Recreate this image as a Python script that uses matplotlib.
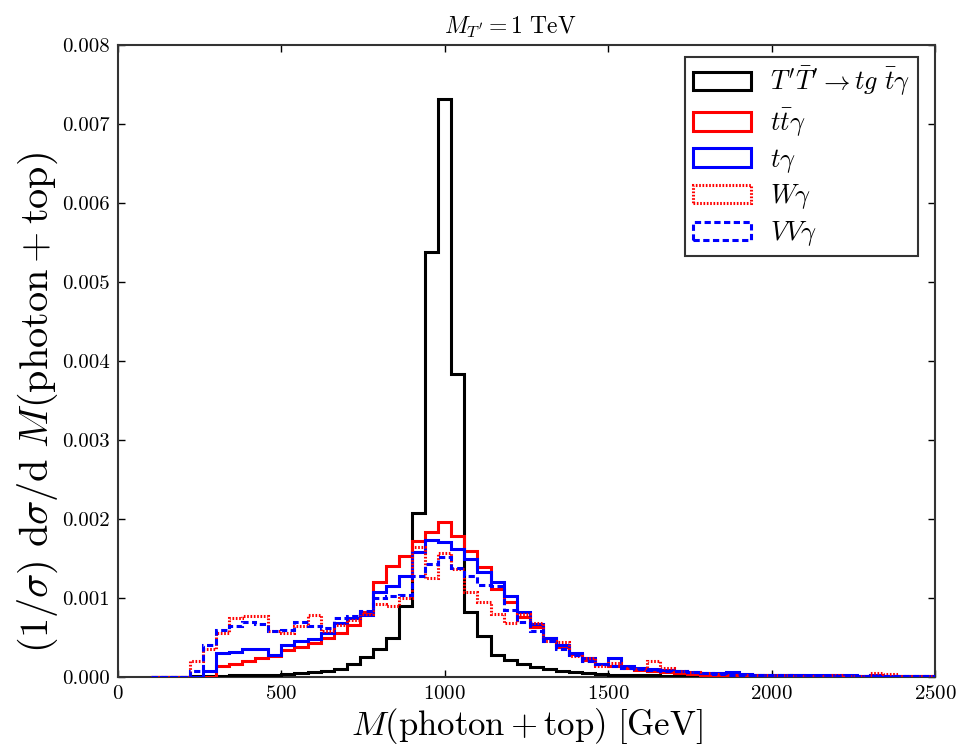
import numpy as np
import matplotlib
matplotlib.use('Agg')
import matplotlib.pyplot as plt
from matplotlib.ticker import FormatStrFormatter

plt.rcParams['mathtext.fontset'] = 'cm'
plt.rcParams['font.family'] = 'serif'
plt.rcParams['font.serif'] = ['cmr10']
plt.rcParams['axes.formatter.use_mathtext'] = True
plt.rcParams['lines.scale_dashes'] = False

# 60 bins of 40 GeV from 100 to 2500
edges = np.arange(100, 2501, 40)

tprime = [0, 0, 0, 0.00001, 0.00001,
          0.00001, 0.00002, 0.00002, 0.00003, 0.00003,
          0.00004, 0.00005, 0.00006, 0.00007, 0.0001,
          0.00016, 0.00025, 0.00035, 0.0005, 0.0009,
          0.00208, 0.00538, 0.00732, 0.00384, 0.00082,
          0.00052, 0.00028, 0.00021, 0.00017, 0.00013,
          0.0001, 0.00008, 0.00006, 0.00005, 0.00004,
          0.00003, 0.00002, 0.00002, 0.00002, 0.00001,
          0.00001, 0.00001, 0.00001, 0.00001, 0.00001,
          0, 0, 0, 0, 0,
          0, 0, 0, 0, 0,
          0, 0, 0, 0, 0]

ttgamma = [0, 0, 0, 0, 0,
           0.00014, 0.00016, 0.0002, 0.00024, 0.00027,
           0.00034, 0.00038, 0.00043, 0.0005, 0.00056,
           0.00066, 0.00082, 0.0012, 0.0014, 0.00153,
           0.00172, 0.00184, 0.00196, 0.00178, 0.0016,
           0.00139, 0.00111, 0.00095, 0.00076, 0.00063,
           0.0005, 0.00038, 0.00029, 0.00022, 0.00017,
           0.00014, 0.00011, 0.00009, 0.00007, 0.00006,
           0.00005, 0.00004, 0.00003, 0.00003, 0.00002,
           0.00002, 0.00002, 0.00001, 0.00001, 0.00002,
           0.00001, 0.00001, 0.00001, 0.00001, 0.00001,
           0.00001, 0.00001, 0.00001, 0.00001, 0.00001]

tgamma = [0, 0, 0, 0, 0.00008,
          0.0003, 0.00032, 0.00035, 0.00036, 0.00028,
          0.0004, 0.00045, 0.00048, 0.00056, 0.00068,
          0.00075, 0.00078, 0.00108, 0.00115, 0.00128,
          0.00158, 0.00173, 0.00171, 0.00162, 0.00149,
          0.00133, 0.0012, 0.00103, 0.00082, 0.00067,
          0.0005, 0.0004, 0.00031, 0.00024, 0.00017,
          0.00024, 0.00014, 0.00012, 0.0001, 0.00009,
          0.00008, 0.00006, 0.00005, 0.00005, 0.00006,
          0.00004, 0.00003, 0.00003, 0.00002, 0.00002,
          0.00002, 0.00002, 0.00002, 0.00002, 0.00001,
          0.00002, 0.00001, 0.00001, 0.00001, 0.00001]

wgamma = [0, 0, 0, 0.0002, 0.00035,
          0.00056, 0.00075, 0.00077, 0.00077, 0.00058,
          0.00056, 0.00065, 0.00079, 0.00058, 0.00066,
          0.00072, 0.0008, 0.00092, 0.0009, 0.001,
          0.00165, 0.00126, 0.00157, 0.00137, 0.00108,
          0.00095, 0.0008, 0.00069, 0.0008, 0.00069,
          0.00045, 0.00044, 0.00026, 0.00024, 0.00014,
          0.00018, 0.00012, 0.0001, 0.0002, 0.00012,
          0.00008, 0.00006, 0.00005, 0.00004, 0.00003,
          0.00003, 0.00002, 0.00002, 0.00002, 0.00001,
          0.00001, 0.00001, 0.00002, 0.00001, 0.00001,
          0.00005, 0.00004, 0.00001, 0.00001, 0.00001]

vvgamma = [0, 0, 0, 0.00008, 0.0004,
           0.0006, 0.00065, 0.0007, 0.00067, 0.00058,
           0.0006, 0.0007, 0.00065, 0.00062, 0.00075,
           0.00077, 0.00083, 0.001, 0.00102, 0.00104,
           0.00128, 0.00143, 0.00152, 0.00138, 0.00128,
           0.00117, 0.00115, 0.00085, 0.0007, 0.00058,
           0.00045, 0.00036, 0.00028, 0.0002, 0.00016,
           0.00014, 0.00012, 0.0001, 0.00009, 0.00008,
           0.00007, 0.00006, 0.00005, 0.00004, 0.00003,
           0.00003, 0.00002, 0.00002, 0.00002, 0.00001,
           0.00001, 0.00001, 0.00001, 0.00001, 0.00001,
           0.00001, 0.00001, 0.00001, 0.00001, 0.00001]

labels = [r'$T^{\prime}\bar{T}^{\prime} \rightarrow tg\ \bar{t}\gamma$',
          r'$t\bar{t}\gamma$', r'$t\gamma$', r'$W\gamma$', r'$VV\gamma$']

fig = plt.figure(figsize=(9.59, 7.52), dpi=100)
ax = fig.add_axes([0.123, 0.0997, 0.852, 0.840])

centers = edges[:-1] + 20
series = [(tprime, 'black', '-'), (ttgamma, 'red', '-'), (tgamma, 'blue', '-'),
          (wgamma, 'red', (0, (1.2, 1.2))), (vvgamma, 'blue', (0, (4.5, 2.5)))]
for (vals, col, ls), lab in zip(series, labels):
    ax.hist(centers, bins=edges, weights=vals, histtype='step', zorder=3,
            color=col, linestyle=ls, linewidth=2.2, label=lab)

ax.set_xlim(0, 2500)
ax.set_ylim(0, 0.008)
ax.set_xticks(np.arange(0, 2501, 500))
ax.set_yticks(np.arange(0, 0.0081, 0.001))
ax.yaxis.set_major_formatter(FormatStrFormatter('%.3f'))
ax.tick_params(direction='in', top=True, right=True, length=5, width=1,
               labelsize=15, pad=6)
for s in ax.spines.values():
    s.set_linewidth(1.5)
    s.set_color('#333333')

ax.set_title(r'$M_{T^{\prime}} = 1\ \mathrm{TeV}$', fontsize=17, pad=8, x=0.48)
ax.set_xlabel(r'$M(\mathrm{photon} + \mathrm{top})\ [\mathrm{GeV}]$', fontsize=25, labelpad=2)
ax.set_ylabel(r'$(1/\sigma)\ \mathrm{d}\sigma/\mathrm{d}\ M(\mathrm{photon} + \mathrm{top})$',
              fontsize=29)
ax.yaxis.set_label_coords(-0.071, 0.435)

leg = ax.legend(loc='upper right', bbox_to_anchor=(0.979, 0.981), borderaxespad=0,
                fontsize=19, fancybox=False, framealpha=1, handlelength=2.2,
                handleheight=0.7, handletextpad=0.7, borderpad=0.3, labelspacing=0.3)
leg.get_frame().set_edgecolor('#333333')
leg.get_frame().set_linewidth(1.5)

fig.savefig('out.png', dpi=100)
